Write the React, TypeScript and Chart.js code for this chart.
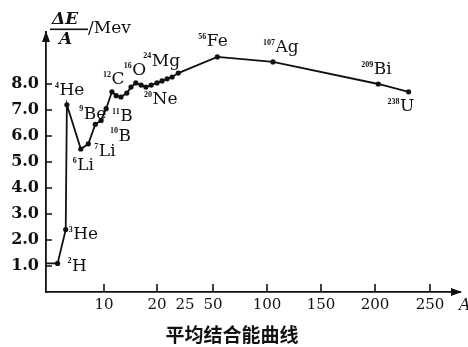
import { useEffect, useRef } from 'react';
import { Chart, registerables } from 'chart.js';

Chart.register(...registerables);

// Mass number A (as placed on the picture) and average binding energy ΔE/A (MeV)
const CURVE_A = [0, 2, 3.4, 3.6, 6.0, 7.3, 8.5, 9.5, 10.4, 11.5, 12.3, 13.2, 14.3, 15.1, 16.0, 17.0, 17.9, 18.9, 20.0, 20.9, 21.8, 22.7, 23.8, 54, 105.5, 203, 230.5];
const CURVE_E = [1.1, 1.1, 2.4, 7.2, 5.5, 5.7, 6.45, 6.6, 7.05, 7.7, 7.55, 7.5, 7.65, 7.88, 8.04, 7.96, 7.88, 7.96, 8.04, 8.12, 8.2, 8.27, 8.42, 9.04, 8.85, 8.0, 7.7];

// Nuclide labels: index into the curve, mass number, symbol
const NUC_INDEX = [1, 2, 3, 4, 5, 6, 7, 8, 9, 14, 18, 22, 23, 24, 25, 26];
const NUC_MASS = ['2', '3', '4', '6', '7', '9', '10', '11', '12', '16', '20', '24', '56', '107', '209', '238'];
const NUC_SYMBOL = ['H', 'He', 'He', 'Li', 'Li', 'Be', 'B', 'B', 'C', 'O', 'Ne', 'Mg', 'Fe', 'Ag', 'Bi', 'U'];
// label placement relative to the point (left of superscript, centre of symbol)
const NUC_OFFSET: [number, number][] = [
  [10, 3], [3, 5], [-12, -14], [-8, 17], [6, 8], [-16, -10], [9, 16], [6, 8],
  [-9, -12], [-12, -12], [-13, 17], [-35, -12], [-19, -15], [-10, -14], [-17, -14], [-21, 15],
];

// Broken (non-linear) A axis of the original figure
const X_BREAK_A = [0, 10, 20, 25, 50, 100, 150, 200, 250, 300];
const X_BREAK_U = [0, 58, 111, 139, 167, 221, 275, 329, 384, 438];
const X_TICKS = [10, 20, 25, 50, 100, 150, 200, 250];
const X_TICK_MARKS = [10, 20, 50, 100, 150, 200, 250];
const Y_TICKS = [1, 2, 3, 4, 5, 6, 7, 8];

const toU = (a: number) => {
  for (let i = 1; i < X_BREAK_A.length; i++) {
    if (a <= X_BREAK_A[i]) {
      const a0 = X_BREAK_A[i - 1], a1 = X_BREAK_A[i];
      const u0 = X_BREAK_U[i - 1], u1 = X_BREAK_U[i];
      return u0 + ((a - a0) / (a1 - a0)) * (u1 - u0);
    }
  }
  return X_BREAK_U[X_BREAK_U.length - 1];
};

const INK = '#111111';
const SERIF = '"DejaVu Serif", "Liberation Serif", serif';

const decorPlugin = {
  id: 'decor',
  afterDraw(chart: any) {
    const { ctx, chartArea, scales } = chart;
    const xs = scales.x, ys = scales.y;
    ctx.save();
    ctx.strokeStyle = INK;
    ctx.fillStyle = INK;
    ctx.lineWidth = 1.6;
    // inward tick marks
    ctx.beginPath();
    X_TICK_MARKS.forEach((a) => {
      const px = xs.getPixelForValue(toU(a));
      ctx.moveTo(px, chartArea.bottom);
      ctx.lineTo(px, chartArea.bottom - 8);
    });
    Y_TICKS.forEach((v) => {
      const py = ys.getPixelForValue(v);
      ctx.moveTo(chartArea.left, py);
      ctx.lineTo(chartArea.left + 6, py);
    });
    ctx.stroke();
    // arrows
    const l = chartArea.left, t = chartArea.top, r = chartArea.right, b = chartArea.bottom;
    ctx.beginPath();
    ctx.moveTo(l, t - 1);
    ctx.lineTo(l - 4, t + 10);
    ctx.lineTo(l + 4, t + 10);
    ctx.closePath();
    ctx.fill();
    ctx.beginPath();
    ctx.moveTo(r + 2, b);
    ctx.lineTo(r - 9, b - 4);
    ctx.lineTo(r - 9, b + 4);
    ctx.closePath();
    ctx.fill();

    // y title: ΔE / A  /Mev
    ctx.textBaseline = 'middle';
    ctx.textAlign = 'left';
    ctx.font = `italic bold 17px ${SERIF}`;
    ctx.fillText('ΔE', 52, 20);
    ctx.fillRect(50, 28.5, 38, 1.6);
    ctx.fillText('A', 59, 40);
    ctx.font = `17px ${SERIF}`;
    ctx.fillText('/Mev', 88, 29);

    // x title
    ctx.font = `italic 16px ${SERIF}`;
    ctx.fillText('A', 459, 306);

    // caption
    ctx.textAlign = 'center';
    ctx.font = `bold 19px "Noto Sans CJK SC", sans-serif`;
    ctx.fillText('平均结合能曲线', 232, 335);

    // nuclide labels
    const meta = chart.getDatasetMeta(0);
    ctx.textAlign = 'left';
    NUC_INDEX.forEach((idx, k) => {
      const p = meta.data[idx];
      if (!p) return;
      const [dx, dy] = NUC_OFFSET[k];
      const x0 = p.x + dx, yc = p.y + dy;
      ctx.font = `bold 8px "Liberation Serif", serif`;
      ctx.fillText(NUC_MASS[k], x0, yc - 5);
      const w = ctx.measureText(NUC_MASS[k]).width;
      ctx.font = `17px ${SERIF}`;
      ctx.fillText(NUC_SYMBOL[k], x0 + w + 0.5, yc);
    });
    ctx.restore();
  },
};

export default function App() {
  const ref = useRef<HTMLCanvasElement>(null);
  useEffect(() => {
    if (!ref.current) return;
    const pts = CURVE_A.map((a, i) => ({ x: toU(a), y: CURVE_E[i] }));
    const chart = new Chart(ref.current, {
      type: 'line',
      data: {
        datasets: [
          {
            data: pts,
            borderColor: INK,
            borderWidth: 1.8,
            pointRadius: (c: any) => (c.dataIndex === 0 ? 0 : 2.6),
            pointBackgroundColor: INK,
            pointBorderWidth: 0,
            tension: 0,
          },
        ],
      },
      options: {
        animation: false,
        responsive: false,
        events: [],
        layout: { padding: { top: 32, right: 8, left: 0, bottom: 0 } },
        plugins: { legend: { display: false }, tooltip: { enabled: false } },
        scales: {
          x: {
            type: 'linear',
            min: 0,
            max: 414,
            grid: { display: false, drawTicks: false },
            border: { display: true, color: INK, width: 1.8 },
            afterBuildTicks: (s: any) => {
              s.ticks = X_TICKS.map((a) => ({ value: toU(a) }));
            },
            afterFit: (s: any) => {
              s.height = 55;
            },
            ticks: {
              autoSkip: false,
              maxRotation: 0,
              padding: 4,
              color: INK,
              font: { family: SERIF, size: 15 },
              callback: (v: any) => {
                const i = X_TICKS.findIndex((a) => Math.abs(toU(a) - Number(v)) < 0.01);
                return i >= 0 ? String(X_TICKS[i]) : '';
              },
            },
          },
          y: {
            type: 'linear',
            min: 0,
            max: 10,
            grid: { display: false, drawTicks: false },
            border: { display: true, color: INK, width: 1.8 },
            afterBuildTicks: (s: any) => {
              s.ticks = Y_TICKS.map((v) => ({ value: v }));
            },
            afterFit: (s: any) => {
              s.width = 46;
            },
            ticks: {
              padding: 7,
              color: INK,
              font: { family: SERIF, size: 16, weight: 'bold' },
              callback: (v: any) => Number(v).toFixed(1),
            },
          },
        },
      },
      plugins: [decorPlugin],
    });
    return () => chart.destroy();
  }, []);
  return (
    <div style={{ position: 'fixed', left: 0, top: 0, width: 468, height: 347, background: '#fff' }}>
      <canvas ref={ref} width={468} height={347} style={{ display: 'block' }} />
    </div>
  );
}
